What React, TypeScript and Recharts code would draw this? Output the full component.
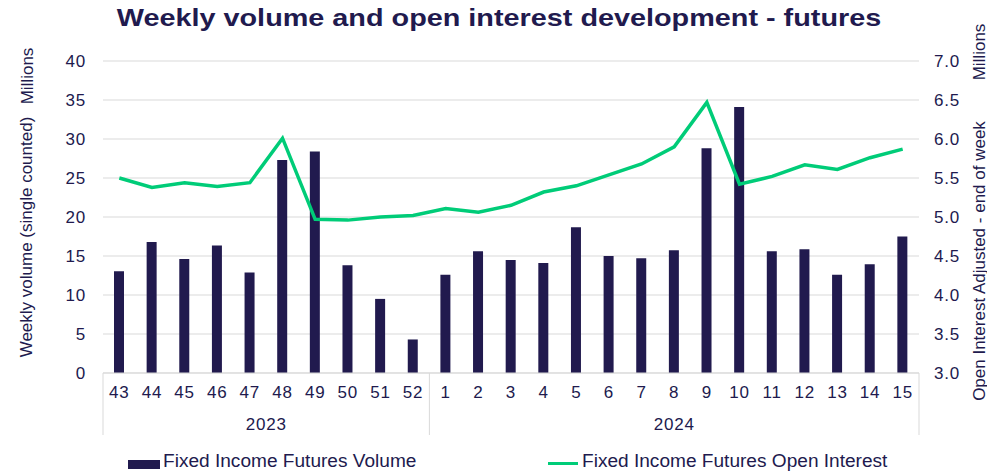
import { ComposedChart, Bar, Line, XAxis, YAxis, CartesianGrid } from 'recharts';

/** Weekly futures volume (millions) and open interest (millions), weeks 43/2023 – 15/2024. */
const weeks = ['43', '44', '45', '46', '47', '48', '49', '50', '51', '52', '1', '2', '3', '4', '5', '6', '7', '8', '9', '10', '11', '12', '13', '14', '15'];
const years = ['2023', '2023', '2023', '2023', '2023', '2023', '2023', '2023', '2023', '2023', '2024', '2024', '2024', '2024', '2024', '2024', '2024', '2024', '2024', '2024', '2024', '2024', '2024', '2024', '2024'];
const volume = [13.05, 16.8, 14.6, 16.35, 12.9, 27.3, 28.4, 13.8, 9.5, 4.3, 12.6, 15.6, 14.5, 14.1, 18.7, 15.0, 14.7, 15.75, 28.8, 34.1, 15.6, 15.85, 12.6, 13.95, 17.5];
const openInterest = [5.5, 5.38, 5.44, 5.39, 5.44, 6.01, 4.97, 4.96, 5.0, 5.02, 5.11, 5.06, 5.15, 5.32, 5.4, 5.54, 5.68, 5.9, 6.47, 5.42, 5.52, 5.67, 5.61, 5.76, 5.87];
const leftTicks = [0, 5, 10, 15, 20, 25, 30, 35, 40];
const rightTicks = [3, 3.5, 4, 4.5, 5, 5.5, 6, 6.5, 7];

const NAVY = '#211a4e';
const GREEN = '#00cc78';
const GRID = '#d9d9d9';
const FONT = '"Liberation Sans", Arial, sans-serif';

const W = 987;
const H = 472;
const PLOT_LEFT = 103;
const PLOT_RIGHT = 919;
const PLOT_TOP = 61;
const PLOT_BOTTOM = 373;
const BAND = (PLOT_RIGHT - PLOT_LEFT) / weeks.length;

const data = weeks.map((w, i) => ({
  week: w,
  year: years[i],
  volume: volume[i],
  oi: openInterest[i],
}));

/** Second x-axis row: year labels plus the group separators. */
function YearTick(props: { x?: number; index?: number }) {
  const { x = 0, index = 0 } = props;
  const isStart = index === 0 || years[index] !== years[index - 1];
  const isLast = index === years.length - 1;
  if (!isStart && !isLast) return null;
  const left = x - BAND / 2;
  let count = 0;
  if (isStart) {
    while (index + count < years.length && years[index + count] === years[index]) count++;
  }
  return (
    <g>
      {isStart && (
        <line x1={left} x2={left} y1={PLOT_BOTTOM} y2={PLOT_BOTTOM + 62} stroke={GRID} strokeWidth={1} />
      )}
      {isLast && (
        <line x1={x + BAND / 2} x2={x + BAND / 2} y1={PLOT_BOTTOM} y2={PLOT_BOTTOM + 62} stroke={GRID} strokeWidth={1} />
      )}
      {isStart && (
        <text
          x={left + (count * BAND) / 2}
          y={PLOT_BOTTOM + 57}
          textAnchor="middle"
          fill={NAVY}
          fontSize={17}
          fontFamily={FONT}
          letterSpacing={0.8}
        >
          {years[index]}
        </text>
      )}
    </g>
  );
}

function Rotated({ cx, cy, children }: { cx: number; cy: number; children: string }) {
  return (
    <div
      style={{
        position: 'absolute',
        left: cx,
        top: cy,
        transform: 'translate(-50%, -50%) rotate(-90deg)',
        whiteSpace: 'nowrap',
        fontSize: 17,
        color: NAVY,
        lineHeight: 1,
      }}
    >
      {children}
    </div>
  );
}

export default function App() {
  const tickStyle = { fill: NAVY, fontSize: 17, fontFamily: FONT, letterSpacing: 0.8 };
  const legendText = {
    position: 'absolute' as const,
    top: 451,
    fontSize: 18,
    color: NAVY,
    whiteSpace: 'nowrap' as const,
    transform: 'scaleX(1.06)',
    transformOrigin: 'left center',
  };
  return (
    <div style={{ position: 'absolute', left: 0, top: 0, width: W, height: H, background: '#fff', fontFamily: FONT }}>
      <div
        style={{
          position: 'absolute',
          left: 0,
          top: 4,
          width: 998,
          textAlign: 'center',
          fontSize: 24,
          fontWeight: 'bold',
          color: NAVY,
          transform: 'scaleX(1.2)',
        }}
      >
        Weekly volume and open interest development - futures
      </div>

      <ComposedChart
        width={W}
        height={H}
        data={data}
        margin={{ top: PLOT_TOP, left: PLOT_LEFT - 60, right: W - PLOT_RIGHT - 68, bottom: H - PLOT_BOTTOM - 70 }}
      >
        <CartesianGrid yAxisId="left" vertical={false} stroke={GRID} />
        <XAxis
          dataKey="week"
          interval={0}
          height={30}
          tickLine={false}
          tickSize={0}
          tickMargin={13}
          axisLine={{ stroke: GRID }}
          tick={tickStyle}
        />
        <XAxis
          xAxisId="year"
          dataKey="week"
          interval={0}
          height={40}
          axisLine={false}
          tickLine={false}
          tick={<YearTick />}
        />
        <YAxis
          yAxisId="left"
          width={60}
          domain={[0, 40]}
          ticks={leftTicks}
          axisLine={false}
          tickLine={false}
          tickSize={0}
          tickMargin={17}
          tick={tickStyle}
        />
        <YAxis
          yAxisId="right"
          orientation="right"
          width={68}
          domain={[3, 7]}
          ticks={rightTicks}
          tickFormatter={(v: number) => v.toFixed(1)}
          axisLine={false}
          tickLine={false}
          tickSize={0}
          tickMargin={15}
          tick={tickStyle}
        />
        <Bar yAxisId="left" dataKey="volume" fill={NAVY} barSize={10} isAnimationActive={false} />
        <Line
          yAxisId="right"
          dataKey="oi"
          stroke={GREEN}
          strokeWidth={3.5}
          dot={false}
          type="linear"
          isAnimationActive={false}
        />
      </ComposedChart>

      <Rotated cx={26} cy={237}>Weekly volume (single counted)</Rotated>
      <Rotated cx={27} cy={76}>Millions</Rotated>
      <Rotated cx={979} cy={52}>Millions</Rotated>
      <Rotated cx={979} cy={261}>Open Interest Adjusted - end of week</Rotated>

      {/* legend */}
      <div style={{ position: 'absolute', left: 128, top: 460, width: 32, height: 9, background: NAVY }} />
      <div style={{ ...legendText, left: 163 }}>Fixed Income Futures Volume</div>
      <div style={{ position: 'absolute', left: 548, top: 462, width: 30, height: 3, background: GREEN }} />
      <div style={{ ...legendText, left: 582 }}>Fixed Income Futures Open Interest</div>
    </div>
  );
}
